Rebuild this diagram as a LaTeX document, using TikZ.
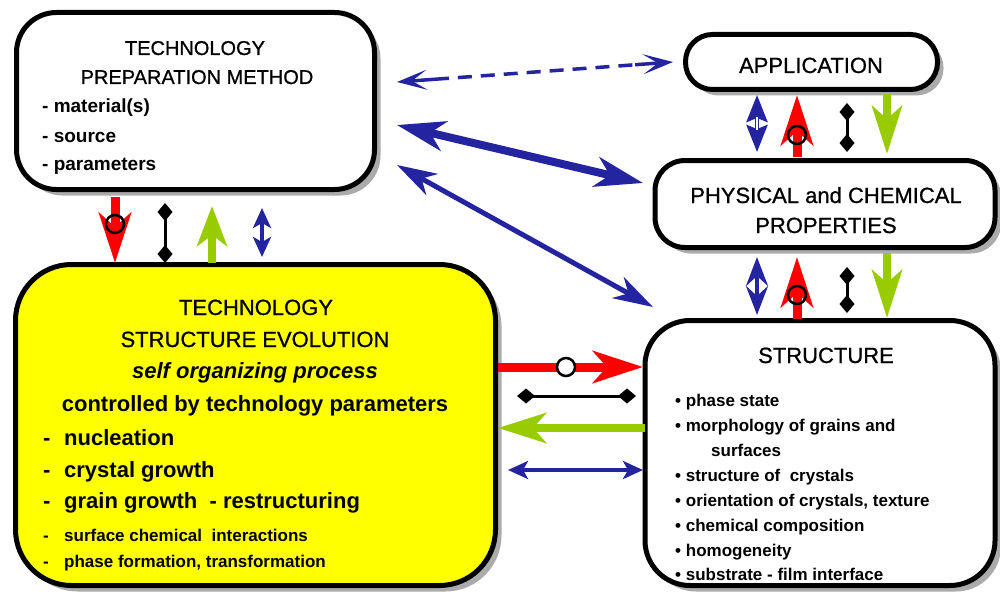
\documentclass[tikz,border=0pt]{standalone}
\usepackage{fontspec}
\setmainfont{Liberation Sans}
\newfontface\titleface{Liberation Sans}[FakeBold=0.8]
\usetikzlibrary{arrows.meta,shadows,calc}
\definecolor{arrred}{RGB}{255,0,0}
\definecolor{arrgreen}{RGB}{153,204,0}
\definecolor{arrblue}{RGB}{36,36,160}
\definecolor{boxyellow}{RGB}{255,255,0}

\begin{document}
\begin{tikzpicture}[x=1pt,y=-1pt,
  box/.style={draw=black, line width=5pt, rounded corners=#1, inner sep=0pt,
    drop shadow={shadow xshift=6pt, shadow yshift=-6pt, fill=black!33, opacity=1}},
  ttl/.style={font=\titleface\fontsize{22}{26}\selectfont, inner sep=0pt, anchor=base},
  smallttl/.style={font=\titleface\fontsize{20}{24}\selectfont, inner sep=0pt, anchor=base},
  biglist/.style={font=\bfseries\fontsize{22}{26}\selectfont, inner sep=0pt, anchor=base west},
  midlist/.style={font=\bfseries\fontsize{19}{22}\selectfont, inner sep=0pt, anchor=base west},
  lowlist/.style={font=\bfseries\fontsize{17}{20}\selectfont, inner sep=0pt, anchor=base west},
  fatred/.style={draw=arrred, line width=9pt, -{Stealth[length=50pt,width=32pt,inset=14pt]}},
  fatgreen/.style={draw=arrgreen, line width=8pt, -{Stealth[length=48pt,width=30pt,inset=13pt]}},
  diamondline/.style={draw=black, line width=3pt, {Diamond[length=18pt,width=15pt]}-{Diamond[length=18pt,width=15pt]}},
  bluetwin/.style={draw=arrblue, line width=4.5pt, {Stealth[length=20pt,width=18pt,inset=5pt]}-{Stealth[length=20pt,width=18pt,inset=5pt]}},
  thinhead/.tip={Stealth[length=30pt,width=20pt,inset=15pt]},
  ring/.style={draw=black, line width=2.5pt}
]
\useasboundingbox (0,0) rectangle (1000,599);

% ---- boxes ----
\node[box=40pt, fill=white, minimum width=358pt, minimum height=177pt] (prep) at (195.5,101) {};
\node[box=56pt, fill=boxyellow, minimum width=480pt, minimum height=321pt] (evol) at (255.5,425) {};
\node[box=27pt, fill=white, minimum width=252pt, minimum height=55pt] (app) at (811.5,62) {};
\node[box=30pt, fill=white, minimum width=340pt, minimum height=87pt] (phys) at (825,204) {};
\node[box=45pt, fill=white, minimum width=350pt, minimum height=265pt] (struct) at (820,453) {};

% ---- texts: preparation method ----
\node[smallttl] (prepA) at (195,55) {TECHNOLOGY};
\node[smallttl] (prepB) at (197,84) {PREPARATION METHOD};
\node[midlist] (prepC) at (42,113) {- material(s)};
\node[midlist] (prepD) at (42,142) {- source};
\node[midlist] (prepE) at (42,170) {- parameters};

% ---- texts: application and properties ----
\node[ttl] (appA) at (811,73) {APPLICATION};
\node[ttl] (physA) at (826,203) {PHYSICAL and CHEMICAL};
\node[ttl] (physB) at (826,233) {PROPERTIES};

% ---- texts: structure evolution ----
\node[ttl] (evA) at (256,315) {TECHNOLOGY};
\node[ttl] (evB) at (255,347) {STRUCTURE EVOLUTION};
\node[ttl, font=\bfseries\itshape\fontsize{22}{26}\selectfont] (evC) at (255,378) {self organizing process};
\node[ttl, font=\bfseries\fontsize{22}{26}\selectfont] (evD) at (255,411) {controlled by technology parameters};
\node[biglist] (evE) at (43,445) {\makebox[21pt][l]{-}nucleation};
\node[biglist] (evF) at (43,477) {\makebox[21pt][l]{-}crystal growth};
\node[biglist] (evG) at (43,508) {\makebox[21pt][l]{-}grain growth~ - restructuring};
\node[lowlist] (evH) at (43,541) {\makebox[21pt][l]{-}surface chemical~ interactions};
\node[lowlist] (evI) at (43,567) {\makebox[21pt][l]{-}phase formation, transformation};

% ---- texts: structure ----
\node[ttl] (stA) at (826,363) {STRUCTURE};
\node[lowlist] (stB) at (675,406) {• phase state};
\node[lowlist] (stC) at (675,431) {• morphology of grains and};
\node[lowlist] (stD) at (711,456) {surfaces};
\node[lowlist] (stE) at (675,481) {• structure of~ crystals};
\node[lowlist] (stF) at (675,506) {• orientation of crystals, texture};
\node[lowlist] (stG) at (675,531) {• chemical composition};
\node[lowlist] (stH) at (675,556) {• homogeneity};
\node[lowlist] (stI) at (675,580) {• substrate - film interface};

% ---- connector end points ----
% preparation <-> evolution
\coordinate (pr1) at (115,197); \coordinate (pr2) at (115,263);
\coordinate (pk1) at (165,203); \coordinate (pk2) at (165,263);
\coordinate (pg1) at (212,263); \coordinate (pg2) at (212,206);
\coordinate (pb1) at (262,208); \coordinate (pb2) at (262,257);
% application <-> properties
\coordinate (ab1) at (757,95);  \coordinate (ab2) at (757,152);
\coordinate (ar1) at (797,157); \coordinate (ar2) at (797,95);
\coordinate (ak1) at (847,103); \coordinate (ak2) at (847,152);
\coordinate (ag1) at (887,94);  \coordinate (ag2) at (887,154);
% properties <-> structure
\coordinate (sb1) at (757,257); \coordinate (sb2) at (757,315);
\coordinate (sr1) at (797,319); \coordinate (sr2) at (797,257);
\coordinate (sk1) at (847,267); \coordinate (sk2) at (847,313);
\coordinate (sg1) at (887,253); \coordinate (sg2) at (887,318);
% evolution <-> structure
\coordinate (er1) at (498,367); \coordinate (er2) at (643,367);
\coordinate (ek1) at (517,396); \coordinate (ek2) at (636,396);
\coordinate (eg1) at (645,428); \coordinate (eg2) at (498,428);
\coordinate (eb1) at (508,470); \coordinate (eb2) at (643,470);
% preparation to the right-hand column
\coordinate (d1a) at (397,82);  \coordinate (d1b) at (673,62);
\coordinate (d2a) at (397,125); \coordinate (d2b) at (643,183);
\coordinate (d3a) at (397,165); \coordinate (d3b) at (653,307);

% ---- connectors ----
\draw[fatred] (pr1) -- (pr2);
\draw[ring] (115,224) circle[radius=9pt];
\draw[diamondline] (pk1) -- (pk2);
\draw[fatgreen, -{Stealth[length=40pt,width=30pt,inset=11pt]}] (pg1) -- (pg2);
\draw[bluetwin] (pb1) -- (pb2);

\draw[draw=arrblue, line width=4pt, {Stealth[length=27pt,width=21pt,inset=4pt]}-{Stealth[length=27pt,width=21pt,inset=4pt]}] (ab1) -- (ab2);
\draw[white, line width=1.6pt] (757,117) -- (757,130);
\draw[fatred] (ar1) -- (ar2);
\draw[ring] (797,135) circle[radius=9pt];
\draw[diamondline] (ak1) -- (ak2);
\draw[fatgreen] (ag1) -- (ag2);

\draw[draw=arrblue, line width=4pt, {Stealth[length=29pt,width=22pt,inset=10pt]}-{Stealth[length=29pt,width=22pt,inset=10pt]}] (sb1) -- (sb2);
\draw[fatred] (sr1) -- (sr2);
\draw[ring] (797,295) circle[radius=9pt];
\draw[diamondline] (sk1) -- (sk2);
\draw[fatgreen] (sg1) -- (sg2);

\draw[fatred] (er1) -- (er2);
\draw[ring, fill=white] (566,367) circle[radius=9pt];
\draw[diamondline] (ek1) -- (ek2);
\draw[fatgreen] (eg1) -- (eg2);
\draw[bluetwin] (eb1) -- (eb2);

% dashed shaft, with a solid head drawn at each end
\draw[draw=arrblue, line width=3.5pt, dash pattern=on 14pt off 9pt]
  ($(d1a)!38pt!(d1b)$) -- ($(d1b)!38pt!(d1a)$);
\draw[draw=arrblue, line width=3.5pt, -{thinhead}] ($(d1a)!38pt!(d1b)$) -- (d1a);
\draw[draw=arrblue, line width=3.5pt, -{thinhead}] ($(d1b)!38pt!(d1a)$) -- (d1b);
\draw[draw=arrblue, line width=8pt,
  {Stealth[length=48pt,width=30pt,inset=14pt]}-{Stealth[length=48pt,width=30pt,inset=14pt]}] (d2a) -- (d2b);
\draw[draw=arrblue, line width=5pt,
  {Stealth[length=40pt,width=24pt,inset=12pt]}-{Stealth[length=40pt,width=24pt,inset=12pt]}] (d3a) -- (d3b);
\end{tikzpicture}
\end{document}
